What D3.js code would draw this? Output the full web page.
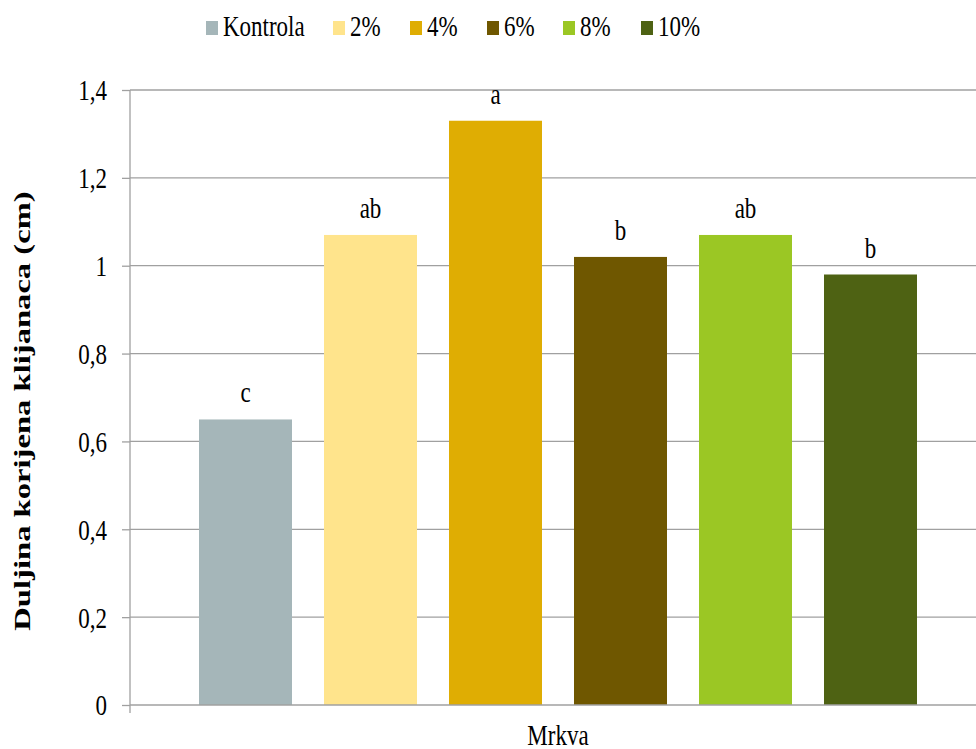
<!DOCTYPE html>
<html>
<head>
<meta charset="utf-8">
<script src="https://cdn.jsdelivr.net/npm/d3@7"></script>
<style>
  body { margin: 0; background: #fff; }
</style>
</head>
<body>
<svg id="chart" width="976" height="749"></svg>
<script>
/* ------------------------------- data -------------------------------- */
const groups   = ['Kontrola', '2%', '4%', '6%', '8%', '10%'];
const values   = [0.65, 1.07, 1.33, 1.02, 1.07, 0.98];
const letters  = ['c', 'ab', 'a', 'b', 'ab', 'b'];
const colors   = ['#A5B6B9', '#FFE48C', '#DFAD03', '#6F5700', '#9BC724', '#4E6213'];
const yTicks   = [0, 0.2, 0.4, 0.6, 0.8, 1, 1.2, 1.4];
const category = 'Mrkva';

const FONT = '"Liberation Serif"';
const STRETCH = 1.27;   // the source picture is stretched vertically, text included

/* ------------------------------- chart setup ------------------------- */
const svg    = d3.select('#chart');
const MARGIN = {top: 90, right: -10, bottom: 44, left: 130};
const WIDTH  = 976 - MARGIN.left - MARGIN.right;
const HEIGHT = 749 - MARGIN.top - MARGIN.bottom;
const g = svg.append('g').attr('transform', `translate(${MARGIN.left},${MARGIN.top})`);

const yScale = d3.scaleLinear().domain([0, 1.4]).range([HEIGHT, 0]);
const xScale = d3.scaleBand().domain(groups).range([0, WIDTH])
  .paddingInner(0.256).paddingOuter(0.552);

const fmt = d => d3.format('.1f')(d).replace('.', ',').replace(/,0$/, '');

// horizontal text at (x,y), stretched tall like the source
function label(sel, x, y) {
  return sel.append('text')
    .attr('transform', `translate(${x},${y}) scale(1,${STRETCH})`)
    .style('font-family', FONT)
    .style('font-size', '23px');
}

// gridlines
g.selectAll('.grid').data(yTicks.slice(1)).enter().append('line')
  .attr('x1', 0).attr('x2', WIDTH)
  .attr('y1', d => yScale(d)).attr('y2', d => yScale(d))
  .attr('stroke', '#A0A0A0').attr('stroke-width', 1.3);

// bars
g.selectAll('.bar').data(values).enter().append('rect')
  .attr('x', (d, i) => xScale(groups[i]))
  .attr('y', d => yScale(d))
  .attr('width', xScale.bandwidth())
  .attr('height', d => HEIGHT - yScale(d))
  .attr('fill', (d, i) => colors[i]);

// significance letters
values.forEach((v, i) => {
  label(g, xScale(groups[i]) + xScale.bandwidth() / 2, yScale(v) - 17)
    .attr('text-anchor', 'middle')
    .text(letters[i]);
});

// y axis
const yAxis = d3.axisLeft(yScale).tickValues(yTicks).tickSize(8).tickPadding(15).tickFormat(fmt);
const yAxisG = g.append('g').call(yAxis);
yAxisG.select('.domain').remove();
yAxisG.selectAll('line').attr('stroke', '#A0A0A0').attr('stroke-width', 1.3);
yAxisG.selectAll('text')
  .style('font-size', '23px').style('font-family', FONT)
  .attr('fill', '#000')
  .attr('x', null).attr('dy', '0.34em')
  .attr('transform', `translate(-23,0) scale(1,${STRETCH})`);
g.append('line').attr('x1', 0).attr('x2', 0).attr('y1', 0).attr('y2', HEIGHT + 8)
  .attr('stroke', '#A0A0A0').attr('stroke-width', 1.3);

// x axis line
g.append('line').attr('x1', 0).attr('x2', WIDTH).attr('y1', HEIGHT).attr('y2', HEIGHT)
  .attr('stroke', '#A0A0A0').attr('stroke-width', 1.5);

label(svg, 558, 745).attr('text-anchor', 'middle').text(category);

// y title
svg.append('text')
  .attr('transform', `translate(30,411) rotate(-90) scale(1.36,1)`)
  .attr('text-anchor', 'middle')
  .style('font-family', FONT)
  .style('font-size', '24px')
  .style('font-weight', 'bold')
  .text('Duljina korijena klijanaca (cm)');

/* ------------------------------- legend ------------------------------ */
const legendX = [206, 333, 410, 487, 563, 641];
groups.forEach((d, i) => {
  svg.append('rect').attr('x', legendX[i]).attr('y', 21)
    .attr('width', 12).attr('height', 14).attr('fill', colors[i]);
  label(svg, legendX[i] + 17, 36).text(d);
});
</script>
</body>
</html>
